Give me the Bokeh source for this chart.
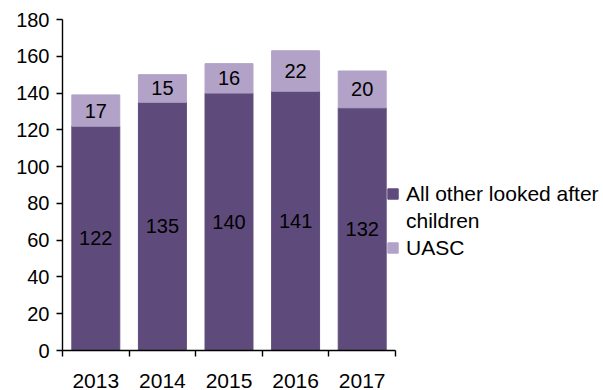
from bokeh.plotting import figure
from bokeh.models import ColumnDataSource, Range1d, FixedTicker, Legend, LegendItem
from bokeh.core.properties import value
from bokeh.embed import file_html
from bokeh.resources import INLINE

years = ["2013", "2014", "2015", "2016", "2017"]
other = [122, 135, 140, 141, 132]
uasc = [17, 15, 16, 22, 20]
y_ticks = [0, 20, 40, 60, 80, 100, 120, 140, 160, 180]

DARK = "#5F4B7B"
LIGHT = "#B2A2C7"
FONT = "Liberation Sans"

# layout (pixels)
W, H = 603, 390
LEFT, BAR_RIGHT, FRAME_RIGHT, TOP, BOTTOM = 62, 395, 602, 19, 352

n = len(years)
x_end = n * (FRAME_RIGHT - LEFT) / (BAR_RIGHT - LEFT)

xs = [i + 0.5 for i in range(n)]
tops = [o + u for o, u in zip(other, uasc)]
src = ColumnDataSource(dict(
    x=xs, other=other, uasc=uasc, top=tops,
    mid_o=[o / 2 for o in other],
    mid_u=[o + u / 2 for o, u in zip(other, uasc)],
    lab_o=[str(v) for v in other], lab_u=[str(v) for v in uasc],
))

p = figure(width=W, height=H, output_backend="svg", toolbar_location=None,
           x_range=Range1d(0, x_end), y_range=Range1d(0, 180),
           min_border_left=LEFT, min_border_right=W - FRAME_RIGHT,
           min_border_top=TOP, min_border_bottom=H - BOTTOM)
p.outline_line_color = None
p.grid.visible = False

r1 = p.vbar(x="x", bottom=0, top="other", width=0.72, color=DARK, source=src)
r2 = p.vbar(x="x", bottom="other", top="top", width=0.72, color=LIGHT, source=src)
r_blank = p.vbar(x=[], top=[], width=0.1, fill_alpha=0, line_alpha=0)

for col_y, col_t in (("mid_o", "lab_o"), ("mid_u", "lab_u")):
    p.text(x="x", y=col_y, text=col_t, source=src, text_align="center", text_baseline="middle",
           text_font=value(FONT), text_font_size="20px", text_color="black")

# y axis
ya = p.yaxis[0]
ya.ticker = FixedTicker(ticks=y_ticks)
ya.axis_line_color = "black"
ya.axis_line_width = 1.4
ya.major_tick_line_color = "black"
ya.major_tick_line_width = 1.4
ya.major_tick_out = 6
ya.major_tick_in = 0
ya.minor_tick_line_color = None
ya.major_label_text_font = FONT
ya.major_label_text_font_size = "20px"
ya.major_label_text_color = "black"
ya.major_label_standoff = 7

# x axis
xa = p.xaxis[0]
xa.bounds = (0, n)
xa.ticker = FixedTicker(ticks=xs, minor_ticks=list(range(n + 1)))
xa.major_label_overrides = {x: y for x, y in zip(xs, years)}
xa.axis_line_color = "black"
xa.axis_line_width = 1.4
xa.major_tick_line_color = None
xa.major_tick_out = 0
xa.major_tick_in = 0
xa.minor_tick_line_color = "black"
xa.minor_tick_line_width = 1.4
xa.minor_tick_out = 6
xa.minor_tick_in = 0
xa.major_label_text_font = FONT
xa.major_label_text_font_size = "21px"
xa.major_label_text_color = "black"
xa.major_label_standoff = 17

legend = Legend(items=[LegendItem(label="All other looked after", renderers=[r1]),
                       LegendItem(label="children", renderers=[r_blank]),
                       LegendItem(label="UASC", renderers=[r2])],
                location=(386 - LEFT, BOTTOM - 263), orientation="vertical")
legend.background_fill_alpha = 0
legend.border_line_color = None
legend.label_text_font = FONT
legend.label_text_font_size = "21px"
legend.label_text_color = "black"
legend.glyph_width = 13
legend.glyph_height = 13
legend.label_standoff = 7
legend.label_height = 27
legend.padding = 0
legend.spacing = 0
legend.margin = 0
p.add_layout(legend, "center")

open("out.html", "w").write(file_html(p, INLINE))
